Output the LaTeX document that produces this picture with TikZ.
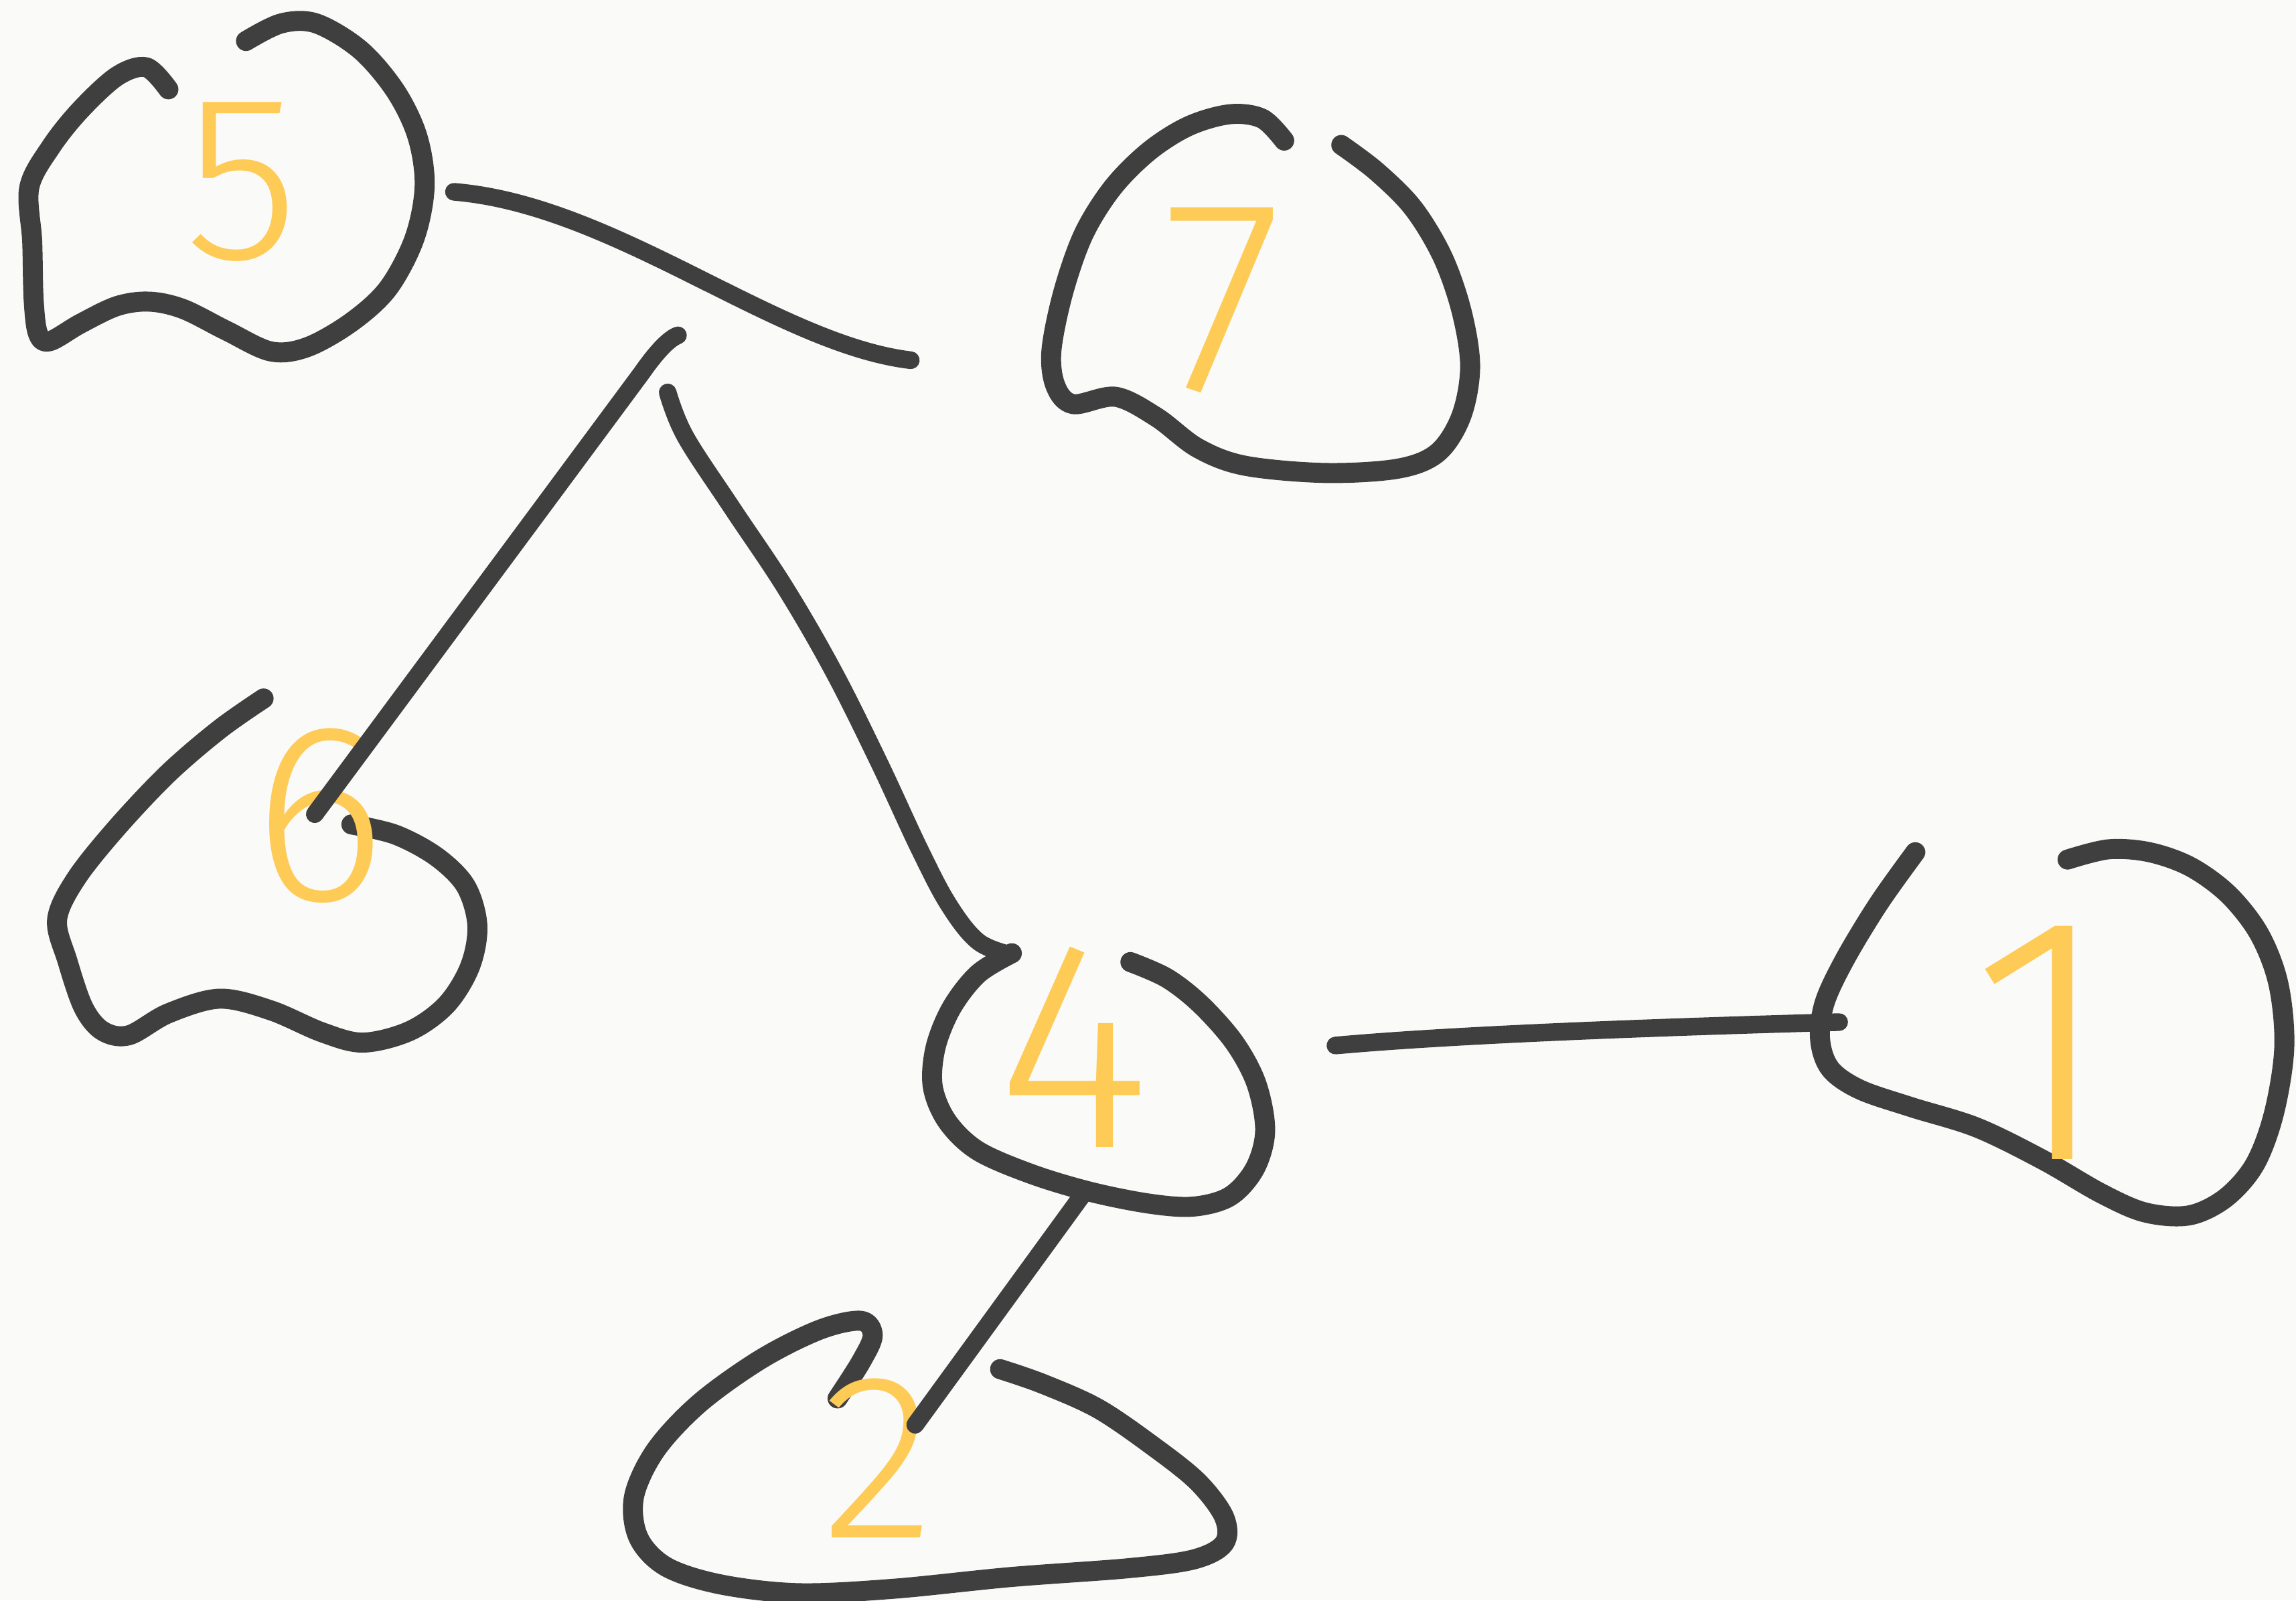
\documentclass[tikz,border=0pt]{standalone}
\usepackage{fontspec}
\newfontfamily\sketchfont{Fira Sans}[UprightFont=* Light]
\definecolor{sketchink}{HTML}{3F3F3F}
\definecolor{sketchyellow}{HTML}{FFCB57}
\definecolor{sketchpaper}{HTML}{FAFAF8}

\begin{document}
\begin{tikzpicture}[x=0.021869cm, y=-0.021869cm,
  blob/.style={draw=sketchink, line width=8.5pt, line cap=round, line join=round},
  edge/.style={draw=sketchink, line width=7.5pt, line cap=round, line join=round},
  digit/.style={text=sketchyellow, inner sep=0pt, font=\sketchfont\fontsize{100}{100}\selectfont}]
  \fill[sketchpaper] (0,0) rectangle (1568,1093);
  \useasboundingbox (0,0) rectangle (1568,1093);

  % hand-drawn outlines
  \draw[blob] plot[smooth, tension=0.55] coordinates {(115,61) (100,46) (80,52) (55,75) (35,100) (20,128) (22,165) (23,205) (26,228) (34,233) (55,221) (80,209) (102,206) (125,211) (155,226) (185,240) (210,237) (240,220) (265,197) (283,163) (290,127) (285,93) (270,62) (246,34) (216,16) (192,16) (168,28)};
  \draw[blob] plot[smooth, tension=0.55] coordinates {(877,96) (862,81) (840,78) (812,86) (785,103) (760,128) (740,160) (726,200) (718,240) (721,264) (733,276) (762,271) (790,285) (818,306) (850,318) (905,323) (955,320) (982,309) (998,284) (1004,250) (998,212) (985,175) (965,142) (940,117) (916,99)};
  \draw[blob] plot[smooth, tension=0.55] coordinates {(180,477) (150,498) (115,528) (80,565) (52,600) (39,628) (46,656) (57,688) (70,704) (88,707) (115,692) (150,682) (185,690) (220,705) (248,712) (280,704) (305,686) (321,660) (326,632) (318,605) (298,585) (270,570) (240,563)};
  \draw[blob] plot[smooth, tension=0.55] coordinates {(691,651) (668,665) (650,688) (639,715) (637,742) (647,766) (668,786) (705,802) (745,814) (785,822) (815,824) (840,817) (857,798) (864,772) (858,740) (843,712) (820,686) (797,668) (772,657)};
  \draw[blob] plot[smooth, tension=0.55] coordinates {(1308,582) (1283,617) (1260,655) (1246,685) (1243,710) (1250,730) (1270,744) (1305,756) (1350,770) (1395,792) (1435,815) (1465,828) (1495,830) (1520,818) (1540,795) (1553,760) (1560,715) (1556,672) (1543,638) (1522,611) (1496,592) (1468,582) (1440,580) (1412,587)};
  \draw[blob] plot[smooth, tension=0.55] coordinates {(572,955) (588,930) (596,912) (588,902) (560,908) (520,928) (478,958) (448,990) (433,1022) (436,1050) (455,1070) (492,1082) (545,1088) (610,1085) (690,1077) (770,1071) (815,1065) (836,1054) (836,1036) (818,1012) (788,988) (750,962) (712,945) (683,935)};

  % labels
  \node[digit] (n5) at (165,124) {5};
  \node[digit, scale=1.17] (n7) at (835,205) {7};
  \node[digit, scale=1.08] (n6) at (218,557) {6};
  \node[digit, scale=1.26] (n4) at (733,715) {4};
  \node[digit, scale=1.49] (n1) at (1395,712) {1};
  \node[digit] (n2) at (600,996) {2};

  % connector ends
  \coordinate (e57a) at (310,131);
  \coordinate (e57b) at (622,246);
  \coordinate (e56a) at (463,229);
  \coordinate (e56b) at (215,556);
  \coordinate (e54a) at (456,268);
  \coordinate (e54b) at (690,652);
  \coordinate (e41a) at (912,714);
  \coordinate (e41b) at (1256,698);
  \coordinate (e42a) at (740,815);
  \coordinate (e42b) at (625,973);

  \draw[edge] (e57a) .. controls (420,140) and (530,235) .. (e57b);
  \draw[edge] (e56a) .. controls (455,232) and (445,245) .. (438,255) -- (e56b);
  \draw[edge] plot[smooth, tension=0.6] coordinates {(e54a) (468,298) (500,347) (536,401) (569,458) (600,520) (628,580) (648,618) (668,643) (e54b)};
  \draw[edge] (e41a) .. controls (1000,706) and (1150,701) .. (e41b);
  \draw[edge] (e42a) -- (e42b);
\end{tikzpicture}
\end{document}
